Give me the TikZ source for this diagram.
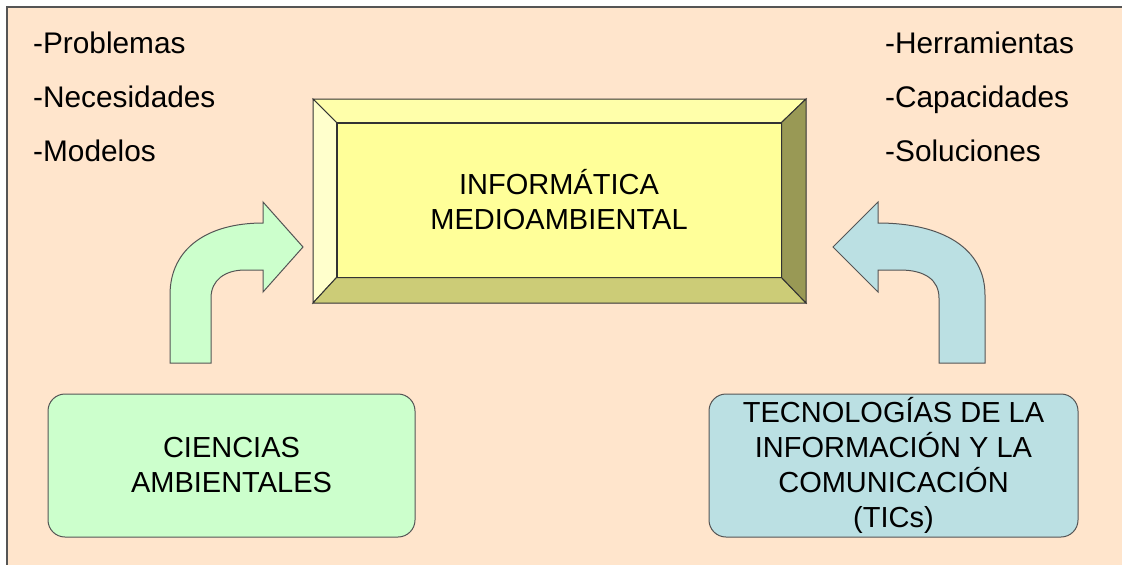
\documentclass[tikz,border=0pt]{standalone}
\usepackage{fontspec}
\setmainfont{Liberation Sans}
\usetikzlibrary{positioning}
\definecolor{peach}{HTML}{FFE5CC}
\definecolor{cgreen}{HTML}{CCFFCC}
\definecolor{cblue}{HTML}{BBE0E3}
\definecolor{face}{HTML}{FFFF99}
\definecolor{bevtop}{HTML}{FFFFAA}
\definecolor{bevleft}{HTML}{FFFFCC}
\definecolor{bevbot}{HTML}{CCCC77}
\definecolor{bevright}{HTML}{999955}
\definecolor{edge}{HTML}{555555}

\begin{document}
\begin{tikzpicture}[x=1pt, y=-1pt,
    txt/.style={font=\fontsize{29}{35}\selectfont, inner sep=0pt},
    item/.style={font=\fontsize{29.8}{35}\selectfont, inner sep=0pt, anchor=base west},
    box/.style={txt, draw=edge, line width=1pt, rounded corners=17pt, align=center},
    bent/.style={draw=edge, line width=1pt}]
    \useasboundingbox (0,0) rectangle (1122,565);
    \fill[peach] (7,7) rectangle (1122,565);
    \draw[edge, line width=1.5pt] (7,565) -- (7,7) -- (1122,7);

    % lists
    \node (prob)  at (33,53)  [item] {-Problemas};
    \node (nec)   at (33,107) [item] {-Necesidades};
    \node (mod)   at (33,161) [item] {-Modelos};
    \node (herr)  at (885,53)  [item] {-Herramientas};
    \node (cap)   at (885,107) [item] {-Capacidades};
    \node (sol)   at (885,161) [item] {-Soluciones};

    % bevelled box
    \coordinate (otl) at (313,99);
    \coordinate (otr) at (806,99);
    \coordinate (obr) at (806,303);
    \coordinate (obl) at (313,303);
    \node (info) at (559,200) [txt, draw=black!80, line width=1pt, fill=face, align=center,
        minimum width=444, minimum height=154] {INFORMÁTICA\\MEDIOAMBIENTAL};
    \filldraw[fill=bevtop, draw=black!80, line width=1pt] (otl) -- (otr) -- (info.north east) -- (info.north west) -- cycle;
    \filldraw[fill=bevleft, draw=black!80, line width=1pt] (otl) -- (info.north west) -- (info.south west) -- (obl) -- cycle;
    \filldraw[fill=bevbot, draw=black!80, line width=1pt] (obl) -- (info.south west) -- (info.south east) -- (obr) -- cycle;
    \filldraw[fill=bevright, draw=black!80, line width=1pt] (otr) -- (obr) -- (info.south east) -- (info.north east) -- cycle;

    % source boxes
    \node (cien) at (231.5,465.5) [box, fill=cgreen, minimum width=367, minimum height=143] {CIENCIAS\\AMBIENTALES};
    \node (tic)  at (893.5,465.5) [box, fill=cblue, minimum width=369, minimum height=143] {TECNOLOGÍAS DE LA\\INFORMACIÓN Y LA\\COMUNICACIÓN\\(TICs)};

    % bent arrows
    \filldraw[bent, fill=cgreen] (170,363) -- (170,295) .. controls (170,248) and (208,223) .. (263,223)
        -- (263,202) -- (303,247) -- (263,292) -- (263,270) -- (245,270)
        .. controls (225,270) and (211,280) .. (211,298) -- (211,363) -- cycle;
    \filldraw[bent, fill=cblue] (985,363) -- (985,295) .. controls (985,248) and (942,223) .. (878,223)
        -- (878,202) -- (833,247) -- (878,292) -- (878,270) -- (900,270)
        .. controls (925,270) and (939,280) .. (939,298) -- (939,363) -- cycle;
\end{tikzpicture}
\end{document}
